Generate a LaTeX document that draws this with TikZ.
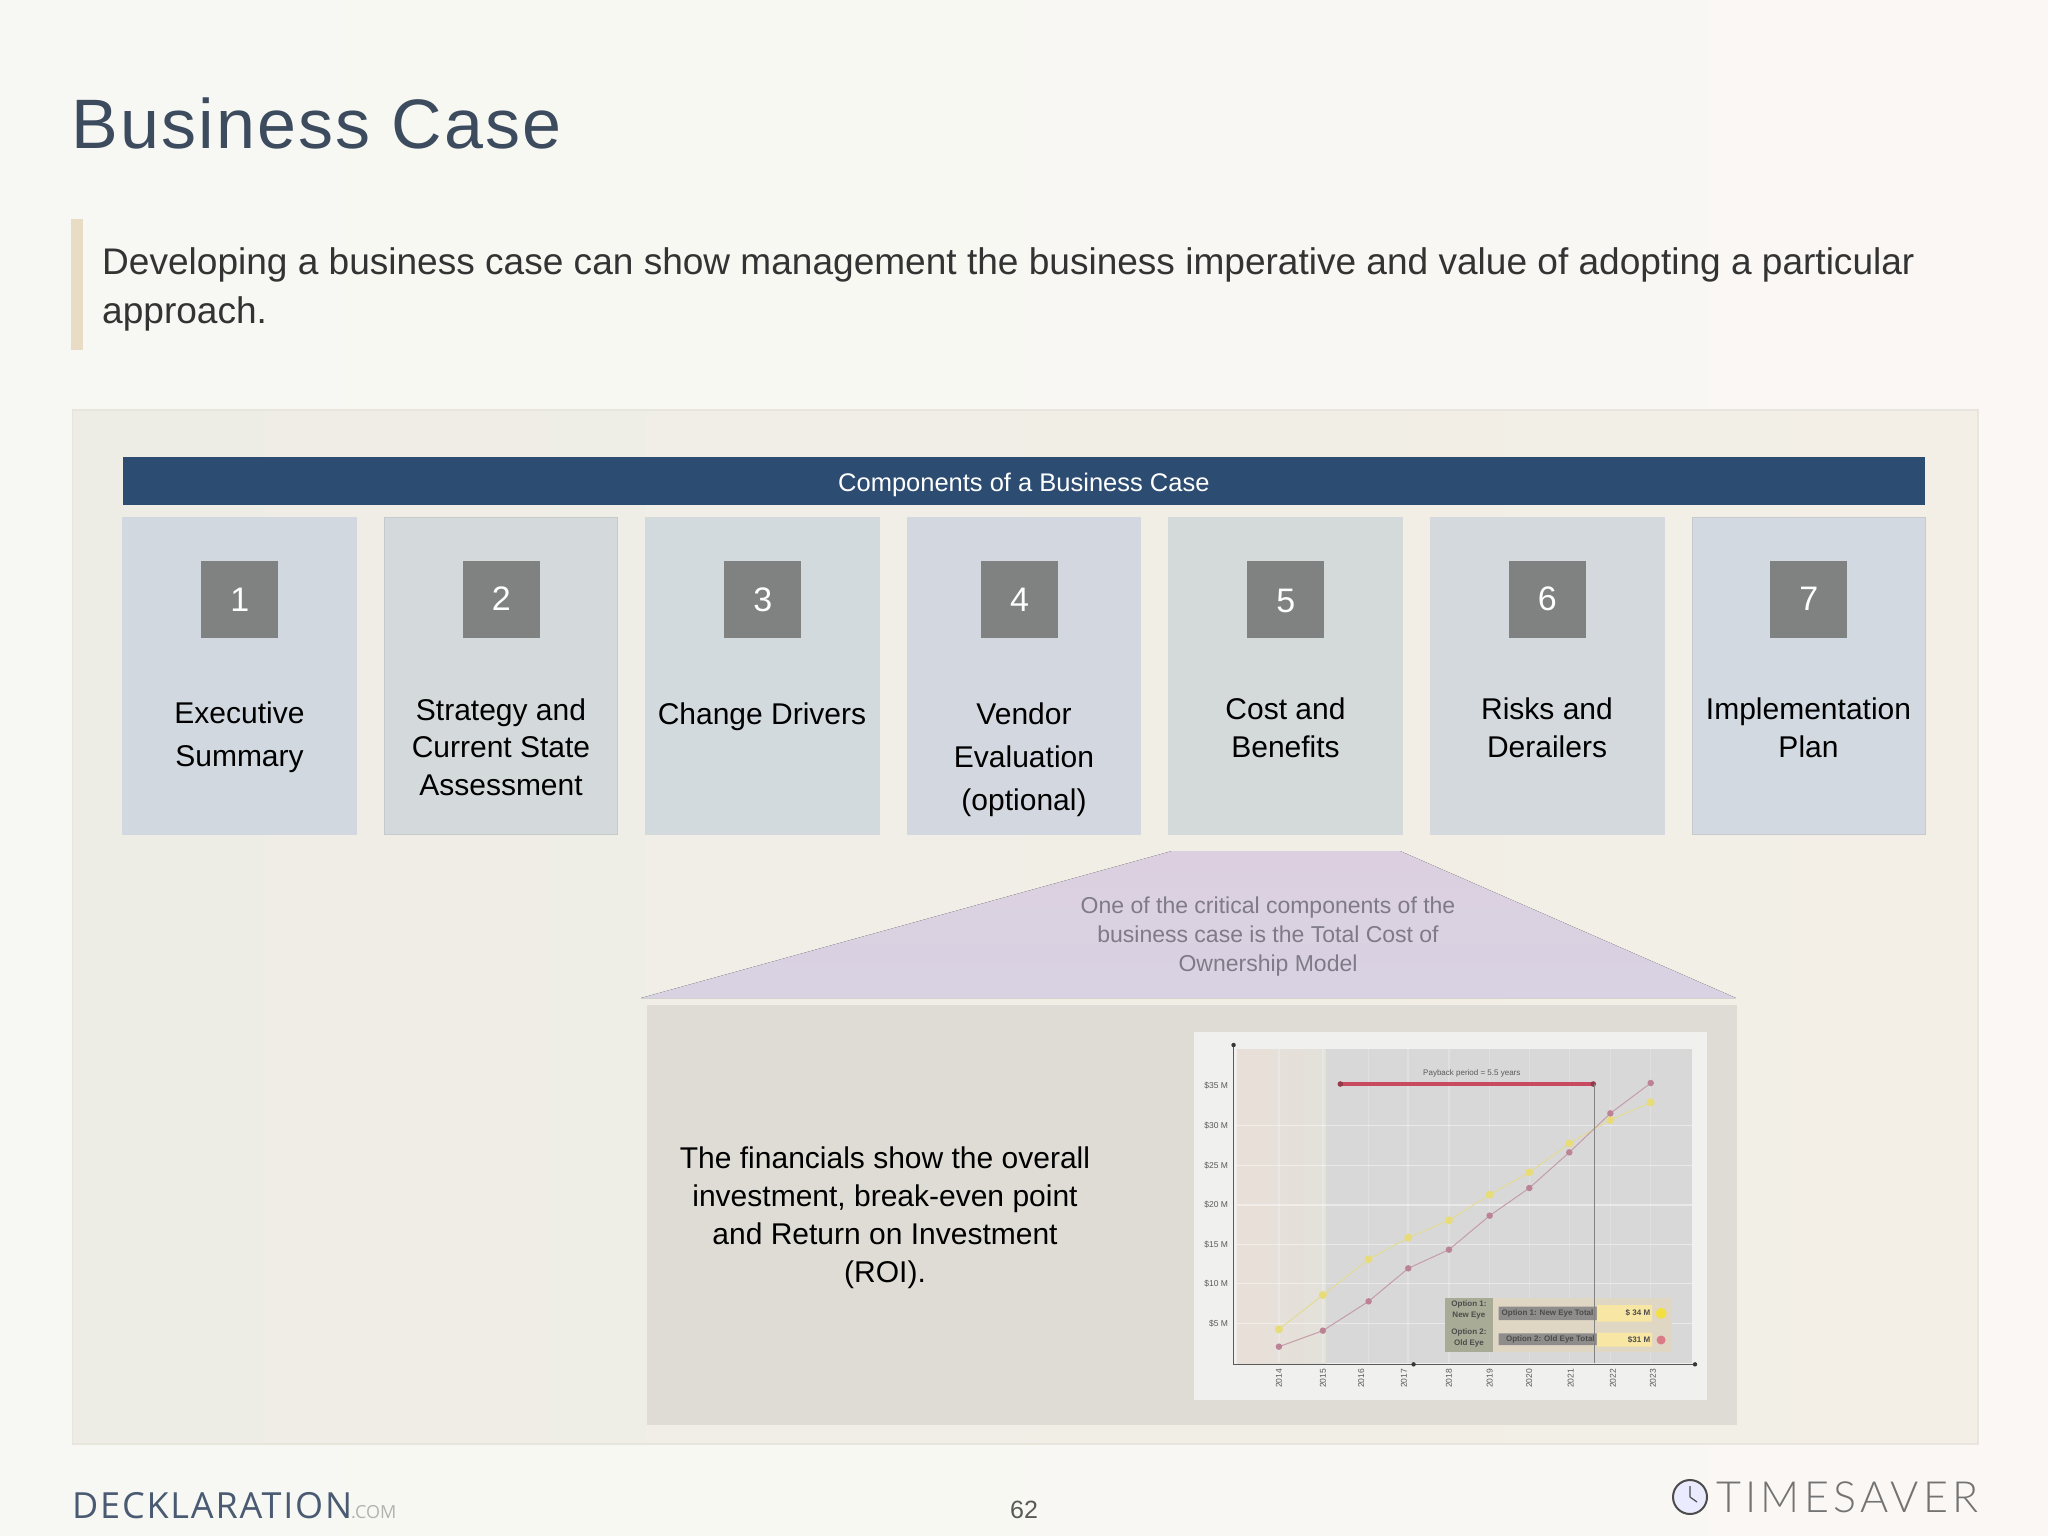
\documentclass[tikz,border=0pt]{standalone}
\usepackage{fontspec}
\setmainfont{Liberation Sans}
\newfontfamily\titlefont[LetterSpace=3]{Liberation Sans}
\newfontfamily\deckfont[LetterSpace=5]{Open Sans}
\newfontfamily\comfont{Open Sans}
\newfontfamily\timefont[LetterSpace=10]{Lato Light}
\newcommand{\fs}[2]{\fontsize{#1}{#2}\selectfont}
\definecolor{pageA}{HTML}{F7F8F3}
\definecolor{pageB}{HTML}{FAF7F4}
\definecolor{panelA}{HTML}{EEEDE5}
\definecolor{panelB}{HTML}{F3EFE7}
\definecolor{panelEdge}{HTML}{E8E6DC}
\definecolor{titleInk}{HTML}{3D4B5F}
\definecolor{bodyInk}{HTML}{333333}
\definecolor{accent}{HTML}{E8DCC4}
\definecolor{navy}{HTML}{2C4C72}
\definecolor{cardOne}{HTML}{D2D8E0}
\definecolor{cardTwo}{HTML}{D4D9DC}
\definecolor{cardThree}{HTML}{D3DADE}
\definecolor{cardFour}{HTML}{D3D7DF}
\definecolor{cardFive}{HTML}{D4D9DA}
\definecolor{cardSix}{HTML}{D4D9DE}
\definecolor{cardSeven}{HTML}{D2D9E0}
\definecolor{cardEdge}{HTML}{C6CACF}
\definecolor{numBox}{HTML}{808282}
\definecolor{trapTop}{HTML}{DCD0E0}
\definecolor{trapBot}{HTML}{D8D2E2}
\definecolor{trapInk}{HTML}{7F7A88}
\definecolor{greyBox}{HTML}{DEDCD5}
\definecolor{chartBg}{HTML}{F0F0EE}
\definecolor{plotBg}{HTML}{D8D8D8}
\definecolor{plotWarm}{HTML}{E8DFD8}
\definecolor{plotWarmB}{HTML}{E2E1DA}
\definecolor{axisInk}{HTML}{5A5A5A}
\definecolor{payRed}{HTML}{C84A60}
\definecolor{serY}{HTML}{E8DC78}
\definecolor{serP}{HTML}{BC8296}
\definecolor{legBg}{HTML}{E0D6C4}
\definecolor{legOl}{HTML}{A8AC96}
\definecolor{legBar}{HTML}{8F8D8C}
\definecolor{legYel}{HTML}{F8E6A4}
\definecolor{deckInk}{HTML}{4A5A72}
\tikzset{
  card/.style={draw=cardEdge,line width=0.8pt,anchor=north west,inner sep=0pt,minimum width=233.5pt,minimum height=317pt},
  numsq/.style={fill=numBox,anchor=north west,inner sep=0pt,minimum width=77pt,minimum height=77pt},
  numtxt/.style={text=white,inner sep=0pt,font=\fs{34}{40}},
  headtxt/.style={text=white,inner sep=0pt,font=\fs{25.5}{30}},
  cardtext/.style={text=black,align=center,inner sep=0pt,font=\fs{30}{43}},
  cardtight/.style={text=black,align=center,inner sep=0pt,font=\fs{30}{37.5}},
  ylab/.style={text=black!65,anchor=east,inner sep=0pt,font=\fs{8.5}{9}},
  xlab/.style={text=black!65,rotate=90,inner sep=0pt,font=\fs{8.5}{9}},
  legtxt/.style={text=black!70,inner sep=0pt,align=center,font=\fs{8}{9}\bfseries},
  dotY/.style={fill=serY,draw=none,circle,inner sep=0pt,minimum size=8pt},
  dotP/.style={fill=serP,draw=none,circle,inner sep=0pt,minimum size=6.5pt},
}
\begin{document}
\begin{tikzpicture}[x=1pt,y=-1pt]
\useasboundingbox (0,0) rectangle (2048,1536);
\shade[left color=pageA,right color=pageB,draw=none] (0,0) rectangle (2048,1536);
% title and intro
\node[anchor=base west,inner sep=0pt,text=titleInk,font=\titlefont\fs{70}{84}] (title) at (71.5,149) {Business Case};
\node[fill=accent,anchor=north west,inner sep=0pt,minimum width=12pt,minimum height=131pt] (bar) at (70.5,219) {};
\node[anchor=north west,inner sep=0pt,text=bodyInk,align=left,font=\fs{37.05}{49}] (intro) at (102,247.5) {Developing a business case can show management the business imperative and value of adopting a particular\\approach.};
% panel
\node[draw=panelEdge,line width=1.5pt,left color=panelA,right color=panelB,anchor=north west,inner sep=0pt,minimum width=1905.5pt,minimum height=1034pt] (panel) at (71.5,409) {};
\node[fill=navy,anchor=north west,inner sep=0pt,minimum width=1802.5pt,minimum height=48.4pt] (header) at (122.4,456.7) {};
\node[headtxt,yshift=-3.5pt] (headlabel) at (header) {Components of a Business Case};
% cards
\node[card,fill=cardOne,draw=cardOne] (c1) at (122.4,516.7) {};
\node[card,fill=cardTwo] (c2) at (383.8,516.7) {};
\node[card,fill=cardThree,draw=cardThree] (c3) at (645,516.7) {};
\node[card,fill=cardFour,draw=cardFour] (c4) at (906.5,516.7) {};
\node[card,fill=cardFive,draw=cardFive] (c5) at (1168,516.7) {};
\node[card,fill=cardSix,draw=cardSix] (c6) at (1430,516.7) {};
\node[card,fill=cardSeven] (c7) at (1691.5,516.7) {};
\node[numsq] (n1) at (201.2,560.3) {};
\node[numsq] (n2) at (462.6,560.3) {};
\node[numsq] (n3) at (724,560.3) {};
\node[numsq] (n4) at (980.8,560.3) {};
\node[numsq] (n5) at (1247,560.3) {};
\node[numsq] (n6) at (1508.5,560.3) {};
\node[numsq] (n7) at (1770,560.3) {};
\node[numtxt,yshift=-1pt] (d1) at (n1) {1};
\node[numtxt] (d2) at (n2) {2};
\node[numtxt,yshift=-1pt] (d3) at (n3) {3};
\node[numtxt,yshift=-1pt] (d4) at (n4) {4};
\node[numtxt,yshift=-2pt] (d5) at (n5) {5};
\node[numtxt] (d6) at (n6) {6};
\node[numtxt] (d7) at (n7) {7};
\node[cardtext] (t1) at (239.5,737.6) {Executive\\Summary};
\node[cardtight] (t2) at (501,747) {Strategy and\\Current State\\Assessment};
\node[cardtext] (t3) at (762,716.6) {Change Drivers};
\node[cardtext] (t4) at (1024,759.6) {Vendor\\Evaluation\\(optional)};
\node[cardtight] (t5) at (1285.5,728) {Cost and\\Benefits};
\node[cardtight] (t6) at (1547,728) {Risks and\\Derailers};
\node[cardtight] (t7) at (1808.5,728) {Implementation\\Plan};
% trapezoid
\fill[top color=trapTop,bottom color=trapBot] (641,998) -- (1172,851) -- (1400,851) -- (1736,998) -- cycle;
\node[text=trapInk,align=center,inner sep=0pt,font=\fs{23}{28.7}] (trap) at (1268,936.6) {One of the critical components of the\\business case is the Total Cost of\\Ownership Model};
% lower box
\node[fill=greyBox,anchor=north west,inner sep=0pt,minimum width=1090pt,minimum height=420.5pt] (lower) at (646.5,1004.5) {};
\node[text=black,align=center,inner sep=0pt,font=\fs{30}{37.9}] (fin) at (885,1217.6) {The financials show the overall\\investment, break-even point\\and Return on Investment\\(ROI).};
% chart
\begin{scope}[shift={(1170,1010)},x=0.35714pt,y=-0.33333pt]
\fill[chartBg] (68,65) rectangle (1503,1170);
\fill[plotBg] (187,118) rectangle (1462,1060);
\shade[left color=plotWarm,right color=plotWarmB] (187,118) rectangle (437,1060);
\foreach \yy in {347,466,585,703,821,941}{\draw[white,opacity=.45,line width=1.5pt] (187,\yy) -- (1462,\yy);}
\foreach \xx in {305,428,556,667,781,895,1006,1118,1233,1346}{\draw[white,opacity=.22,line width=1.5pt] (\xx,118) -- (\xx,1060);}
\draw[serY!70!plotBg,line width=1pt] plot coordinates {(305,958)(428,855)(556,748)(667,683)(781,631)(895,554)(1006,487)(1118,400)(1233,330)(1346,277)};
\draw[serP!70!plotBg,line width=1pt] plot coordinates {(305,1010)(428,962)(556,874)(667,775)(781,719)(895,617)(1006,534)(1118,427)(1233,310)(1346,219)};
\foreach \px/\py in {305/958,428/855,556/748,667/683,781/631,895/554,1006/487,1118/400,1233/330,1346/277}{\node[dotY] at (\px,\py) {};}
\foreach \px/\py in {305/1010,428/962,556/874,667/775,781/719,895/617,1006/534,1118/427,1233/310,1346/219}{\node[dotP] at (\px,\py) {};}
\draw[payRed,line width=4pt] (477,222) -- (1185,222);
\fill[payRed!75!black] (477,222) circle (2.8pt) (1185,222) circle (2.8pt);
\node[text=black!65,inner sep=0pt,font=\fs{8}{9}] (pay) at (845,190) {Payback period = 5.5 years};
\foreach \lab/\yy in {35/228,30/347,25/466,20/585,15/703,10/821,5/941}{\node[ylab] at (163,\yy) {\$\lab\ M};}
\foreach \yr/\xx in {2014/305,2015/428,2016/535,2017/655,2018/781,2019/895,2020/1006,2021/1122,2022/1240,2023/1352}{\node[xlab] at (\xx,1105) {\yr};}
\fill[legBg] (770,865) rectangle (1405,1025);
\fill[legOl] (770,865) rectangle (905,1025);
\fill[legBar] (920,890) rectangle (1195,930) (920,970) rectangle (1195,1005);
\fill[legYel] (1195,885) rectangle (1350,935) (1195,968) rectangle (1350,1010);
\node[legtxt,font=\fs{8}{11}\bfseries] (lo1) at (837,900) {Option 1:\\New Eye};
\node[legtxt,font=\fs{8}{11}\bfseries] (lo2) at (837,985) {Option 2:\\Old Eye};
\node[legtxt] (lb1) at (1057,910) {Option 1: New Eye Total};
\node[legtxt] (lb2) at (1065,988) {Option 2: Old Eye Total};
\node[legtxt,anchor=east] (lv1) at (1345,908) {\$ 34 M};
\node[legtxt,anchor=east] (lv2) at (1345,990) {\$31 M};
\fill[serY!60!yellow!90!orange] (1375,910) circle (5.5pt);
\fill[serP!70!red!80!white] (1375,990) circle (4.5pt);
\draw[axisInk!75,line width=.7pt] (1187,222) -- (1187,1060);
\draw[axisInk,line width=1.2pt] (178,105) -- (178,1063) -- (1470,1063);
\fill[axisInk!60!black] (178,105) circle (2.2pt) (1470,1063) circle (2.2pt) (682,1063) circle (2.2pt);
\end{scope}
% footer
\node[anchor=base west,inner sep=0pt,text=deckInk,font=\deckfont\fs{36}{40}] (deck) at (72,1518) {DECKLARATION};
\node[anchor=base west,inner sep=0pt,text=black!30,font=\comfont\fs{18}{20}] (com) at (351,1518) {.COM};
\node[text=black!65,inner sep=0pt,font=\fs{25}{30}] (page) at (1024,1510) {62};
\node[circle,draw=black!70,fill=white!92!blue,line width=2pt,minimum size=34pt,inner sep=0pt] (clock) at (1690,1497) {};
\draw[black!70,line width=1.2pt] (clock.center) -- ++(0,-11) (clock.center) -- ++(7,5);
\node[anchor=base west,inner sep=0pt,text=black!55,font=\timefont\fs{43}{48}] (ts) at (1716,1512) {TIMESAVER};
\end{tikzpicture}
\end{document}
